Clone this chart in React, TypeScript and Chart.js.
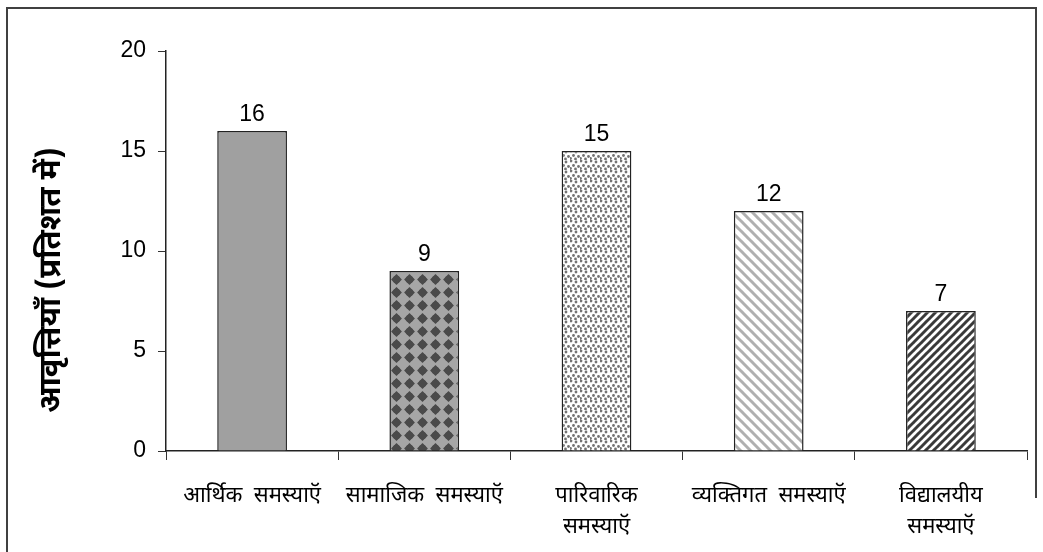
import React, { useEffect, useRef } from 'react';
import { Chart, registerables } from 'chart.js';

Chart.register(...registerables);

const categories: (string | string[])[] = [
  'आर्थिक  समस्याऍ',
  'सामाजिक  समस्याऍ',
  ['पारिवारिक', 'समस्याऍ'],
  'व्यक्तिगत  समस्याऍ',
  ['विद्यालयीय', 'समस्याऍ'],
];
const values = [16, 9, 15, 12, 7];
const yMin = 0;
const yMax = 20;
const yStep = 5;
const yTitle = 'आवृत्तियाँ (प्रतिशत में)';

const HINDI = '"Noto Sans Devanagari", "Lohit Devanagari", "Noto Sans", sans-serif';
const LATIN = '"Liberation Sans", Arial, sans-serif';

function makeTile(size: number, draw: (c: CanvasRenderingContext2D, s: number) => void) {
  const cv = document.createElement('canvas');
  cv.width = size;
  cv.height = size;
  const c = cv.getContext('2d')!;
  draw(c, size);
  return c.createPattern(cv, 'repeat')!;
}

function buildPatterns() {
  const solid = '#a0a0a0';
  const diamonds = makeTile(13, (c, s) => {
    c.fillStyle = '#a6a6a6';
    c.fillRect(0, 0, s, s);
    c.fillStyle = '#4a4a4a';
    const m = s / 2;
    const r = 5.4;
    c.beginPath();
    c.moveTo(m, m - r);
    c.lineTo(m + r, m);
    c.lineTo(m, m + r);
    c.lineTo(m - r, m);
    c.closePath();
    c.fill();
    c.beginPath();
    c.arc(m, m, 3.8, 0, Math.PI * 2);
    c.fill();
  });
  const dots = makeTile(10, (c, s) => {
    c.fillStyle = '#ffffff';
    c.fillRect(0, 0, s, s);
    c.fillStyle = '#737373';
    const pts = [
      [1, 1], [6, 2], [3.5, 5.5], [8.5, 6.5], [0.5, 8.5], [5.5, 9],
    ];
    pts.forEach(([x, y]) => {
      c.beginPath();
      c.arc(x, y, 1.4, 0, Math.PI * 2);
      c.fill();
    });
  });
  const lightStripes = makeTile(10, (c, s) => {
    c.fillStyle = '#ffffff';
    c.fillRect(0, 0, s, s);
    c.strokeStyle = '#b0b0b0';
    c.lineWidth = 3;
    for (let k = -1; k <= 1; k++) {
      c.beginPath();
      c.moveTo(k * s - 1, -1);
      c.lineTo(k * s + s + 1, s + 1);
      c.stroke();
    }
  });
  const darkStripes = makeTile(8, (c, s) => {
    c.fillStyle = '#ffffff';
    c.fillRect(0, 0, s, s);
    c.strokeStyle = '#3a3a3a';
    c.lineWidth = 3;
    for (let k = -1; k <= 1; k++) {
      c.beginPath();
      c.moveTo(k * s - 1, s + 1);
      c.lineTo(k * s + s + 1, -1);
      c.stroke();
    }
  });
  return [solid, diamonds, dots, lightStripes, darkStripes];
}

const decorPlugin = {
  id: 'decor',
  beforeDraw(chart: any) {
    const ctx = chart.ctx;
    ctx.save();
    ctx.fillStyle = '#ffffff';
    ctx.fillRect(0, 0, chart.width, chart.height);
    ctx.strokeStyle = '#404040';
    ctx.lineWidth = 2;
    ctx.beginPath();
    ctx.moveTo(7, chart.height);
    ctx.lineTo(7, 8);
    ctx.lineTo(1036, 8);
    ctx.lineTo(1036, 498);
    ctx.stroke();
    ctx.restore();
  },
  afterDatasetsDraw(chart: any) {
    const ctx = chart.ctx;
    const meta = chart.getDatasetMeta(0);
    ctx.save();
    ctx.fillStyle = '#000000';
    ctx.font = `23px ${LATIN}`;
    ctx.textAlign = 'center';
    ctx.textBaseline = 'alphabetic';
    meta.data.forEach((bar: any, i: number) => {
      ctx.fillText(String(values[i]), bar.x, bar.y - 10);
    });
    // y-axis title
    ctx.translate(54, 280);
    ctx.rotate(-Math.PI / 2);
    ctx.font = `bold 31px ${HINDI}`;
    ctx.textAlign = 'center';
    ctx.textBaseline = 'middle';
    ctx.fillText(yTitle, 0, 0);
    ctx.restore();
  },
};

export default function App() {
  const ref = useRef<HTMLCanvasElement>(null);
  useEffect(() => {
    const canvas = ref.current!;
    const patterns = buildPatterns();
    const chart = new Chart(canvas, {
      type: 'bar',
      data: {
        labels: categories,
        datasets: [
          {
            data: values,
            backgroundColor: patterns as any,
            borderColor: '#222222',
            borderWidth: 1.5,
            barPercentage: 0.81,
            categoryPercentage: 0.5,
          },
        ],
      },
      options: {
        animation: false,
        responsive: false,
        maintainAspectRatio: false,
        devicePixelRatio: 1,
        layout: { padding: { top: 51, right: 16, left: 0, bottom: 0 } },
        plugins: {
          legend: { display: false },
          tooltip: { enabled: false },
          title: { display: false },
        },
        scales: {
          x: {
            afterFit: (s: any) => {
              s.height = 101;
            },
            grid: {
              offset: true,
              drawOnChartArea: false,
              drawTicks: true,
              tickLength: 9,
              color: '#333333',
              lineWidth: 1,
            },
            border: { display: true, color: '#222222', width: 1.5 },
            ticks: {
              color: '#000000',
              padding: 22,
              maxRotation: 0,
              minRotation: 0,
              autoSkip: false,
              font: { family: HINDI, size: 22, lineHeight: '31px' as any },
            },
          },
          y: {
            min: yMin,
            max: yMax,
            afterFit: (s: any) => {
              s.width = 166;
            },
            grid: {
              drawOnChartArea: false,
              drawTicks: true,
              tickLength: 8,
              color: '#333333',
              lineWidth: 1,
            },
            border: { display: true, color: '#222222', width: 1.5 },
            ticks: {
              stepSize: yStep,
              color: '#000000',
              padding: 12,
              font: { family: LATIN, size: 23 },
            },
          },
        },
      },
      plugins: [decorPlugin],
    });
    return () => chart.destroy();
  }, []);
  return (
    <div style={{ position: 'absolute', left: 0, top: 0, width: 1043, height: 552, background: '#fff' }}>
      <canvas ref={ref} width={1043} height={552} style={{ width: 1043, height: 552, display: 'block' }} />
    </div>
  );
}
